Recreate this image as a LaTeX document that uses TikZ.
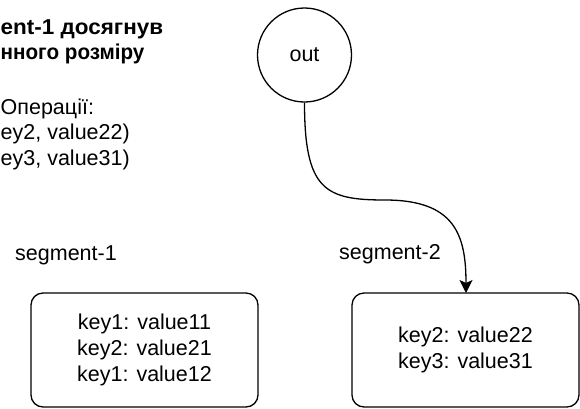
\documentclass[tikz,border=0pt]{standalone}
\usepackage{fontspec}
\setmainfont{Liberation Sans}
\newfontfamily\widebold[FakeStretch=1.045]{Liberation Sans}
\newfontfamily\narrowbold[FakeStretch=0.96]{Liberation Sans}
\usetikzlibrary{arrows.meta}
\begin{document}
\begin{tikzpicture}[x=1pt,y=-1pt,
  txt/.style={inner sep=0pt, font=\fontsize{21.5}{25.5}\selectfont, text height=0.72em, text depth=0.2em},
  segbox/.style={draw, line width=1.3pt, rounded corners=12pt, minimum width=227pt, minimum height=114pt, align=center, font=\fontsize{21.5}{26}\selectfont, inner sep=0pt},
  circ/.style={draw, circle, line width=1.3pt, minimum size=94pt, inner sep=0pt, font=\fontsize{21.5}{25.5}\selectfont}
]
\useasboundingbox (0,0) rectangle (580,408);
% top-left text (its start lies at the left edge)
\node[txt, anchor=west, font=\fontsize{21.5}{25.5}\selectfont\widebold\bfseries] (t1) at (0.5,32) {ent-1 досягнув};
\node[txt, anchor=west, font=\fontsize{21.5}{25.5}\selectfont\narrowbold\bfseries] (t2) at (0.5,57) {нного розміру};
\node[txt, anchor=west] (t3) at (0.5,112) {Операції:};
\node[txt, anchor=west] (t4) at (0.5,137) {ey2, value22)};
\node[txt, anchor=west] (t5) at (0.5,163) {ey3, value31)};
% circle
\node[circ] (out) at (304.5,55) {out};
% segment labels
\node[txt] (l1) at (66,258) {segment-1};
\node[txt] (l2) at (390,257) {segment-2};
% boxes
\node[segbox] (s1) at (144.5,350) {key1: value11\\key2: value21\\key1: value12};
\node[segbox] (s2) at (465.5,350) {key2: value22\\key3: value31};
% connector
\coordinate (s2top) at (466,293);
\draw[line width=1.3pt, -{Stealth[length=13pt,width=13pt,inset=3pt]}]
  (out.south) .. controls (304.5,190) and (325,200) .. (385,200)
  .. controls (455,200) and (466,235) .. (s2top);
\end{tikzpicture}
\end{document}
